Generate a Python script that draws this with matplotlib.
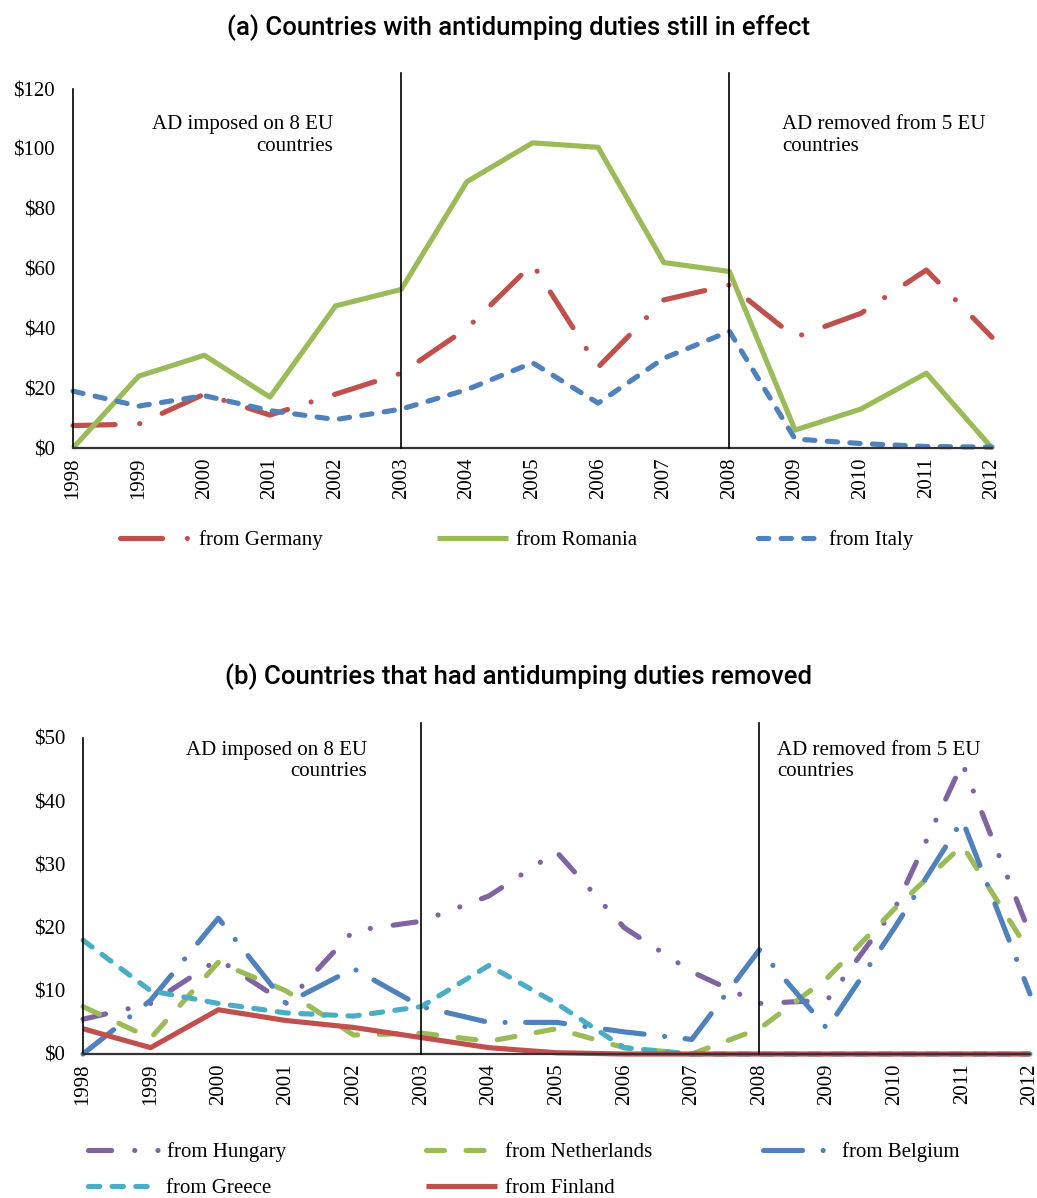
import matplotlib
matplotlib.use("Agg")
import matplotlib.pyplot as plt

years = list(range(1998, 2013))

# (a) countries with antidumping duties still in effect
germany = [7.5, 8, 18, 11, 18, 25, 40, 61.5, 27, 49.5, 54.5, 37, 45, 59.5, 37]
romania = [0, 24, 31, 17, 47.5, 53, 89, 102, 100.5, 62, 59, 6, 13, 25, 0]
italy = [19, 14, 17.5, 12.5, 9.5, 13, 19.5, 28.5, 15, 30, 39, 3, 1.5, 0.5, 0.3]

# (b) countries that had antidumping duties removed
hungary = [5.5, 8, 15, 8, 19.5, 21, 25, 32, 20, 13, 8, 8.5, 23, 46, 19]
netherlands = [7.5, 2.5, 14.5, 10, 3, 3.3, 2, 4, 1, 0, 4, 12, 23, 33, 16]
belgium = [0, 8.5, 21.5, 8, 13.5, 7.5, 5, 5, 3.5, 2.3, 16.5, 4, 20, 37, 9.5]
greece = [18, 10, 8, 6.5, 6, 7.5, 14, 8, 1, 0, 0, 0, 0, 0, 0]
finland = [4, 1, 7, 5.3, 4.2, 2.6, 1, 0.2, 0, 0, 0, 0, 0, 0, 0]

RED, GREEN, BLUE, PURPLE, CYAN = "#C0504D", "#9BBB59", "#4F81BD", "#8064A2", "#4BACC6"
SERIF = "Liberation Serif"
W, H = 1037, 1198
LW = 3.7

fig = plt.figure(figsize=(W / 100, H / 100), dpi=100)


def style_axes(ax, ymax, step):
    ax.set_xlim(1998, 2012)
    ax.set_ylim(0, ymax)
    ax.set_xticks(years)
    ax.set_xticklabels([str(y) for y in years], rotation=90, fontfamily=SERIF, fontsize=15)
    ax.set_yticks(range(0, ymax + 1, step))
    ax.set_yticklabels(["$%d" % v for v in range(0, ymax + 1, step)], fontfamily=SERIF, fontsize=15)
    ax.tick_params(axis="both", length=0)
    ax.tick_params(axis="y", pad=13)
    ax.tick_params(axis="x", pad=7)
    for s in ["top", "right"]:
        ax.spines[s].set_visible(False)
    ax.spines["left"].set_linewidth(1.2)
    ax.spines["bottom"].set_linewidth(1.6)
    ax.spines["bottom"].set_color("#333333")


def vlines(ax, top):
    for x in [2003, 2008]:
        ax.plot([x, x], [0, top], color="black", lw=1.2, clip_on=False, zorder=10)


def legend_entry(line, label, x, y, hl=3.4, pad=0.4):
    fig.legend(handles=[line], labels=[label], loc="center left",
               bbox_to_anchor=(x / W, 1 - y / H), frameon=False,
               borderpad=0, borderaxespad=0, handlelength=hl, handletextpad=pad,
               prop={"family": SERIF, "size": 15})


def title(y, s):
    fig.text(0.5, 1 - y / H, s, ha="center", va="center", fontfamily="Roboto",
             fontweight="medium", fontsize=18.5)


# ---------- panel (a) ----------
ax1 = fig.add_axes([73 / W, 1 - 448 / H, (992 - 73) / W, (448 - 89) / H])
kw = dict(lw=LW, dash_capstyle="round", solid_capstyle="butt", clip_on=False)
l_ger, = ax1.plot(years, germany, color=RED, ls=(0, (8.2, 4.8, 0.01, 4.8)), **kw)
l_rom, = ax1.plot(years, romania, color=GREEN, ls="-", **kw)
l_ita, = ax1.plot(years, italy, color=BLUE, ls=(0, (2.0, 2.4)), **kw)
style_axes(ax1, 120, 20)
vlines(ax1, 125.4)
ax1.text(2001.96, 111.3, "AD imposed on 8 EU\ncountries", ha="right", va="top",
         multialignment="right", fontfamily=SERIF, fontsize=15)
ax1.text(2008.8, 111.3, "AD removed from 5 EU\ncountries", ha="left", va="top",
         fontfamily=SERIF, fontsize=15)
title(28, "(a) Countries with antidumping duties still in effect")

legend_entry(l_ger, "from Germany", 120, 540)
legend_entry(l_rom, "from Romania", 437, 540)
legend_entry(l_ita, "from Italy", 758, 540, hl=3.0)

# ---------- panel (b) ----------
ax2 = fig.add_axes([83 / W, 1 - 1054 / H, (1030 - 83) / W, (1054 - 738) / H])
l_hun, = ax2.plot(years, hungary, color=PURPLE, ls=(0, (4.5, 4.5, 0.01, 4.5, 0.01, 4.5)), **kw)
l_net, = ax2.plot(years, netherlands, color=GREEN, ls=(0, (3.5, 4.2)), **kw)
l_bel, = ax2.plot(years, belgium, color=BLUE, ls=(0, (7.6, 4, 0.01, 4)), **kw)
l_gre, = ax2.plot(years, greece, color=CYAN, ls=(0, (2.2, 2.4)), **kw)
l_fin, = ax2.plot(years, finland, color=RED, ls="-", **kw)
style_axes(ax2, 50, 10)
vlines(ax2, 52.4)
ax2.text(2002.2, 49.6, "AD imposed on 8 EU\ncountries", ha="right", va="top",
         multialignment="right", fontfamily=SERIF, fontsize=15)
ax2.text(2008.26, 49.6, "AD removed from 5 EU\ncountries", ha="left", va="top",
         fontfamily=SERIF, fontsize=15)
title(677, "(b) Countries that had antidumping duties removed")

legend_entry(l_hun, "from Hungary", 88, 1152)
legend_entry(l_net, "from Netherlands", 426, 1152)
legend_entry(l_bel, "from Belgium", 763, 1152)
legend_entry(l_gre, "from Greece", 88, 1188, hl=3.0, pad=0.75)
legend_entry(l_fin, "from Finland", 426, 1188)

fig.savefig("out.png", dpi=100)
